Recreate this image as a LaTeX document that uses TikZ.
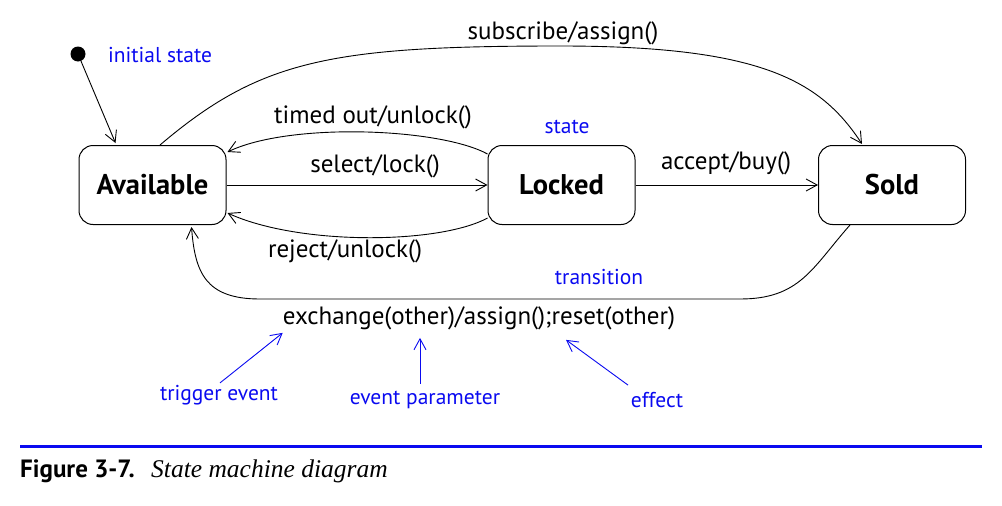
\documentclass[tikz,border=0pt]{standalone}
\usepackage{fontspec}
\setmainfont{PT Sans}
\newfontfamily\capserif{Liberation Serif}
\usetikzlibrary{arrows.meta,calc}
\definecolor{annblue}{RGB}{10,10,240}
\tikzset{
  statebox/.style={draw,line width=1pt,rounded corners=14pt,minimum width=147pt,minimum height=79pt,font=\fontsize{28.5}{30}\selectfont\bfseries},
  trans/.style={draw,line width=0.9pt,-{Straight Barb[length=11pt,width=12pt,line width=0.9pt]}},
  ann/.style={draw=annblue,line width=0.9pt,-{Straight Barb[length=11pt,width=12pt,line width=0.9pt]}},
  lbl/.style={font=\fontsize{25}{27}\selectfont,inner sep=0pt},
  annlbl/.style={font=\fontsize{21.5}{23}\selectfont,text=annblue,inner sep=0pt},
}
\begin{document}
\begin{tikzpicture}[x=1pt,y=-1pt]
\useasboundingbox (0,0) rectangle (1002,506);
\node[statebox] (avail) at (152.5,185) {Available};
\node[statebox] (locked) at (561.5,185) {Locked};
\node[statebox] (sold) at (892,185) {Sold};
\node[circle,fill=black,inner sep=0pt,minimum size=15pt] (init) at (78,54) {};

\node[annlbl] (initlbl) at (160,55) {initial state};
\node[annlbl] (statelbl) at (567,127) {state};
\node[annlbl] (translbl) at (599,277) {transition};
\node[annlbl] (trig) at (219,395) {trigger event};
\node[annlbl] (param) at (425,400) {event parameter};
\node[annlbl] (eff) at (657,400) {effect};

\node[lbl] (subl) at (563,33) {subscribe/assign()};
\node[lbl] (timedl) at (373,117) {timed out/unlock()};
\node[lbl] (sell) at (375,166) {select/lock()};
\node[lbl] (accl) at (726,163) {accept/buy()};
\node[lbl] (rejl) at (345,251) {reject/unlock()};
\node[lbl] (exl) at (479,318) {exchange(other)/assign();reset(other)};

\draw[trans] (init) -- ([xshift=-37pt,yshift=2pt]avail.north);
\draw[trans] ([xshift=7.5pt]avail.north) .. controls (260,60) and (330,46) .. (560,46) .. controls (760,46) and (820,80) .. ([xshift=-30pt,yshift=1pt]sold.north);
\draw[trans] ([yshift=31pt]locked.west) .. controls (440,128) and (290,122) .. ([yshift=33pt,xshift=1pt]avail.east);
\draw[trans] (avail.east) -- (locked.west);
\draw[trans] ([yshift=-33pt]locked.west) .. controls (440,244) and (300,246) .. ([yshift=-28pt,xshift=1pt]avail.east);
\draw[trans] (locked.east) -- (sold.west);
\draw[trans] ([xshift=-42pt]sold.south) .. controls (812,268) and (800,299) .. (740,299) -- (260,299) .. controls (205,299) and (195,272) .. ([xshift=39pt,yshift=-2pt]avail.south);

\draw[ann] ([xshift=1pt,yshift=2pt]trig.north) -- ([yshift=-3pt]exl.south west);
\draw[ann] ([xshift=-5pt,yshift=7pt]param.north) -- ([xshift=-59pt,yshift=-8pt]exl.south);
\draw[ann] ([xshift=-29pt,yshift=7pt]eff.north) -- ([xshift=87pt,yshift=-10pt]exl.south);

\draw[annblue,line width=3pt] (20,446) coordinate (rl) -- (982,446) coordinate (rr);
\node[anchor=base west,inner sep=0pt,font=\fontsize{25}{27}\selectfont\bfseries] (figl) at (20,477) {Figure 3-7.};
\node[anchor=base west,inner sep=0pt,font=\fontsize{25.5}{27}\selectfont\capserif\itshape] (figt) at (151,477) {State machine diagram};
\end{tikzpicture}
\end{document}
